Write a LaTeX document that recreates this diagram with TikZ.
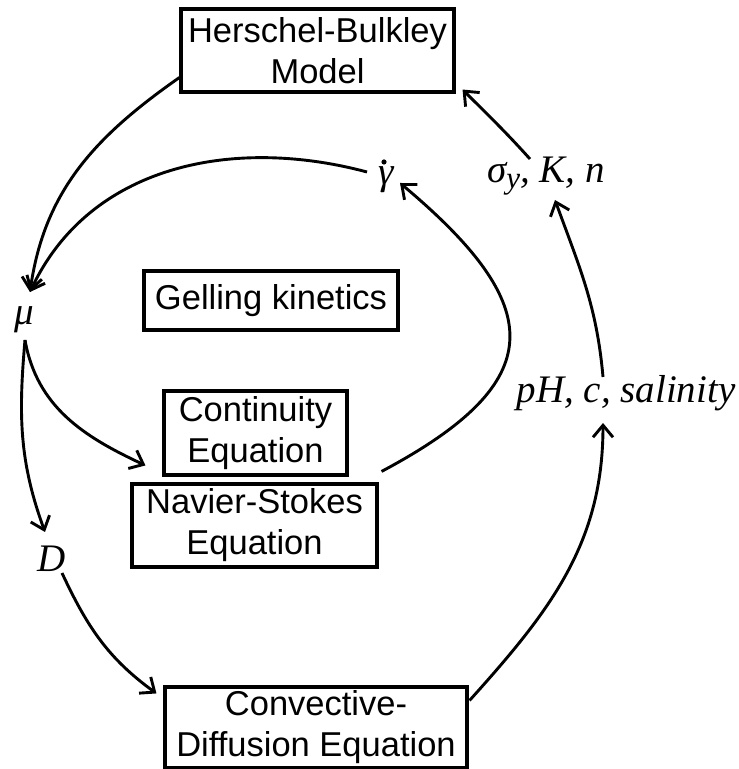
\documentclass[tikz,border=0pt]{standalone}
\usepackage{fontspec}
\usetikzlibrary{arrows.meta,calc}
\newfontfamily\boxfont{Liberation Sans}
\newfontfamily\labfont{Liberation Serif}
\tikzset{
 box/.style={draw, line width=3.1pt, align=center, inner sep=0pt, font=\boxfont\fontsize{34.5}{41}\selectfont},
 lab/.style={inner sep=0pt, font=\labfont\itshape\fontsize{39}{44}\selectfont},
 arr/.style={line width=2.9pt, -{Straight Barb[length=12pt,width=20pt]}}
}
\begin{document}
\begin{tikzpicture}[x=1pt,y=1pt]
\useasboundingbox (0,0) rectangle (739,769);
\node[box, minimum width=273pt, minimum height=83pt] (hb) at (317.5,718.5) {Herschel-Bulkley\\Model};
\node[box, minimum width=254pt, minimum height=59pt] (gel) at (271,468.5) {Gelling kinetics};
\node[box, minimum width=183pt, minimum height=84pt] (cont) at (255.5,336) {Continuity\\Equation};
\node[box, minimum width=245pt, minimum height=83pt] (ns) at (254.5,243.5) {Navier-Stokes\\Equation};
\node[box, minimum width=302pt, minimum height=81pt] (conv) at (316,41.5) {Convective-\\Diffusion Equation};
\node[lab] (mu) at (24,449) {μ};
\node[lab] (g) at (386,589) {γ};
\fill ($(g)+(-2,18)$) circle (2.6pt);
\node[lab] (sig) at (546,593) {σ{\fontsize{31}{31}\selectfont\raisebox{-6pt}{y}}, K, n};
\node[lab] (ph) at (626,376) {pH, c, salinity};
\node[lab] (D) at (52,210.5) {D};
\draw[arr] ($(hb.west)+(0,-27)$) to[out=215,in=82] ($(mu)+(6,28)$);
\draw[arr] ($(g)+(-19,8)$) to[out=165,in=65] ($(mu)+(6,28)$);
\draw[arr] ($(mu)+(1,-20)$) to[out=-80,in=155] ($(ns.north west)+(15,17)$);
\draw[arr] ($(mu)+(1,-20)$) to[out=-95,in=110] ($(D)+(-7,26.5)$);
\draw[arr] ($(D)+(10,-14.5)$) to[out=-65,in=144] ($(conv.north west)+(-7,-8)$);
\draw[arr] ($(conv.north east)+(1,-15)$) to[out=48,in=-90] ($(ph)+(-23,-30)$);
\draw[arr] ($(ph)+(-23,16)$) to[out=95,in=-70] ($(sig)+(9,-24)$);
\draw[arr] ($(sig)+(-16,17)$) to[out=132,in=-45] ($(hb.south east)+(7,4)$);
\draw[arr] ($(ns.north east)+(3,11)$) to[out=28,in=-40,looseness=1.7] ($(g)+(14,-3)$);
\end{tikzpicture}
\end{document}
